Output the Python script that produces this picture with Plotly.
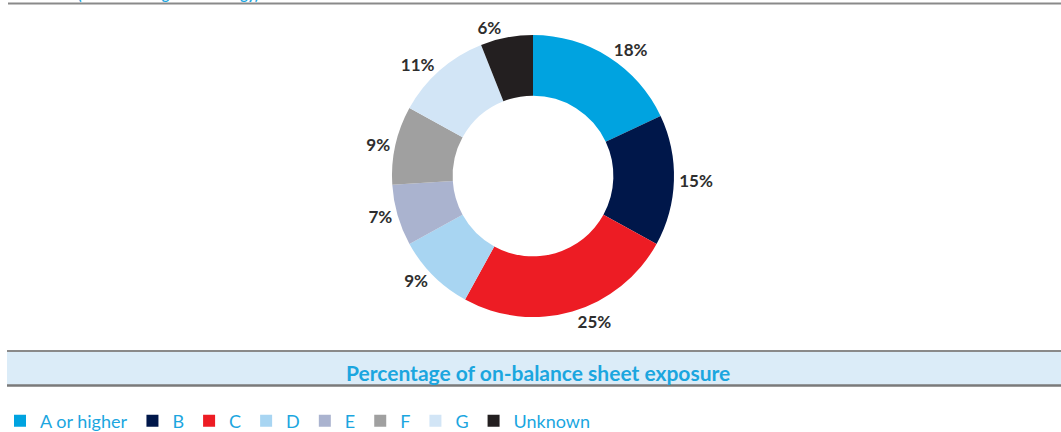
import plotly.graph_objects as go

# Data
categories = ["A or higher", "B", "C", "D", "E", "F", "G", "Unknown"]
shares = [18, 15, 25, 9, 7, 9, 11, 6]
slice_colors = ["#00a3e0", "#00174a", "#ed1c24", "#a8d5f2", "#aab3cf", "#a0a0a0", "#d2e5f6", "#231f20"]
axis_title = "Percentage of on-balance sheet exposure"
chart_title = "Credit risk (internal rating methodology)"

W, H = 1061, 432

def px_x(x):
    return x / W

def px_y(y):
    return 1 - y / H

cx, cy, r = 533, 176, 141

fig = go.Figure()
fig.add_trace(go.Pie(
    labels=categories,
    values=shares,
    sort=False,
    direction="clockwise",
    rotation=0,
    hole=0.57,
    marker=dict(colors=slice_colors, line=dict(width=0)),
    textinfo="percent",
    texttemplate="%{percent:.0%}",
    textposition="outside",
    outsidetextfont=dict(family="Lato", size=17, color="#2e2e2e", weight="bold"),
    domain=dict(x=[px_x(cx - r), px_x(cx + r)], y=[px_y(cy + r), px_y(cy - r)]),
    showlegend=True,
    hoverinfo="label+percent",
))

shapes = [
    # top rule
    dict(type="line", xref="paper", yref="paper", x0=px_x(8), x1=1, y0=px_y(3.5), y1=px_y(3.5),
         line=dict(color="#8a8a8a", width=2)),
    # band
    dict(type="rect", xref="paper", yref="paper", x0=px_x(7), x1=1, y0=px_y(385), y1=px_y(351),
         fillcolor="#dbecf8", line=dict(width=0), layer="below"),
    dict(type="line", xref="paper", yref="paper", x0=px_x(7), x1=1, y0=px_y(351), y1=px_y(351),
         line=dict(color="#8a8a8a", width=2)),
    dict(type="line", xref="paper", yref="paper", x0=px_x(7), x1=1, y0=px_y(385.5), y1=px_y(385.5),
         line=dict(color="#7a7a7a", width=2.5)),
]

annotations = [
    dict(text=axis_title, xref="paper", yref="paper", x=px_x(538), y=px_y(372),
         xanchor="center", yanchor="middle", showarrow=False,
         font=dict(family="Lato", size=21, color="#1ba6df", weight="bold")),
    dict(text=chart_title, xref="paper", yref="paper", x=px_x(8), y=px_y(5),
         xanchor="left", yanchor="bottom", showarrow=False,
         font=dict(family="Lato", size=14, color="#1ba6df", weight="bold")),
]

fig.update_layout(
    width=W, height=H,
    margin=dict(l=0, r=0, t=0, b=0, autoexpand=False),
    paper_bgcolor="white",
    plot_bgcolor="white",
    shapes=shapes,
    annotations=annotations,
    legend=dict(
        orientation="h", x=0.0, y=px_y(421), xanchor="left", yanchor="middle",
        font=dict(family="Lato", size=18, color="#1ba6df"),
        itemwidth=30, tracegroupgap=0, traceorder="normal",
        bgcolor="rgba(0,0,0,0)",
    ),
)

fig.write_html("out.html", config={"displayModeBar": False},
               post_script="document.body.style.margin='0';")
